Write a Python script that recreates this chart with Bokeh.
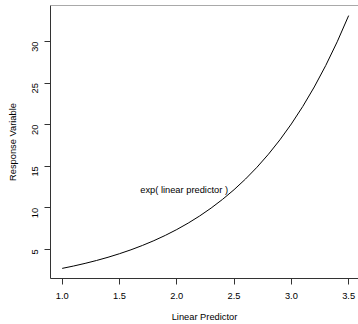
import math
from bokeh.plotting import figure
from bokeh.models import Range1d, FixedTicker, Span, Label
from bokeh.embed import file_html
from bokeh.resources import INLINE

# data: response = exp(linear predictor)
lin_pred = [1.0, 1.1, 1.2, 1.3, 1.4, 1.5, 1.6, 1.7, 1.8, 1.9, 2.0, 2.1, 2.2,
            2.3, 2.4, 2.5, 2.6, 2.7, 2.8, 2.9, 3.0, 3.1, 3.2, 3.3, 3.4, 3.5]
response = [2.718, 3.004, 3.320, 3.669, 4.055, 4.482, 4.953, 5.474, 6.050,
            6.686, 7.389, 8.166, 9.025, 9.974, 11.023, 12.182, 13.464,
            14.880, 16.445, 18.174, 20.086, 22.198, 24.533, 27.113, 29.964,
            33.115]
x_ticks = [1.0, 1.5, 2.0, 2.5, 3.0, 3.5]
y_ticks = [5, 10, 15, 20, 25, 30]
label_text = "exp( linear predictor )"
label_x = 2.5
label_y = 12.182

FONT = "Liberation Sans"
FS = "9.3px"

p = figure(width=358, height=324, output_backend="svg", toolbar_location=None,
           x_range=Range1d(0.898, 3.586), y_range=Range1d(1.502, 34.33),
           min_border_left=50, min_border_right=0, min_border_top=5,
           min_border_bottom=42)
p.background_fill_color = "white"
p.border_fill_color = "white"
p.outline_line_color = None
p.grid.visible = False

p.line(lin_pred, response, line_color="black", line_width=1)

p.add_layout(Label(x=label_x, y=label_y, text=label_text, text_align="right",
                   text_baseline="middle", x_offset=-6, text_font=FONT,
                   text_font_size=FS, text_color="black"))

top = Span(location=34.33, dimension="width", line_color="#555555", line_width=1)
p.add_layout(top)

for ax in (p.xaxis[0], p.yaxis[0]):
    ax.axis_line_color = "#333333"
    ax.major_tick_line_color = "#333333"
    ax.major_tick_out = 6
    ax.major_tick_in = 0
    ax.minor_tick_line_color = None
    ax.major_label_text_font = FONT
    ax.major_label_text_font_size = FS
    ax.major_label_text_color = "black"
    ax.axis_label_text_font = FONT
    ax.axis_label_text_font_size = FS
    ax.axis_label_text_font_style = "normal"
    ax.axis_label_text_color = "black"

p.xaxis.ticker = FixedTicker(ticks=x_ticks)
p.yaxis.ticker = FixedTicker(ticks=y_ticks)
p.xaxis.major_label_overrides = {t: f"{t:.1f}" for t in x_ticks}
p.xaxis.axis_label = "Linear Predictor"
p.yaxis.axis_label = "Response Variable"
p.yaxis.major_label_orientation = math.pi / 2
p.xaxis.major_label_standoff = 8
p.yaxis.major_label_standoff = 9
p.xaxis.axis_label_standoff = 10
p.yaxis.axis_label_standoff = 9

open("out.html", "w").write(file_html(p, INLINE))
